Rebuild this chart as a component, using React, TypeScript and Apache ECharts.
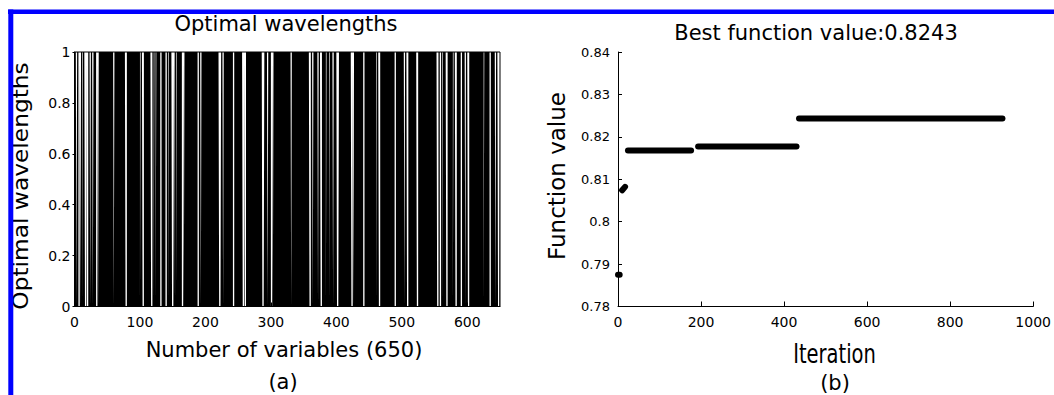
import React, { useEffect, useRef } from "react";
import * as echarts from "echarts";

// ---- Panel (a): selected wavelengths (1 = selected, 0 = not) ----
const N_VARIABLES = 650;
const unselected = [
  3, 6, 7, 9, 12, 16, 17, 19, 20, 24, 28, 33, 34, 36, 60, 78, 79, 100, 104, 105,
  117, 118, 121, 124, 131, 132, 139, 140, 143, 149, 150, 152, 155, 164, 165, 167,
  188, 189, 193, 221, 222, 223, 227, 242, 243, 257, 258, 260, 261, 287, 288, 289,
  295, 300, 301, 303, 331, 359, 360, 364, 372, 376, 377, 384, 389, 395, 401, 402,
  403, 423, 424, 426, 441, 442, 461, 465, 466, 489, 490, 504, 508, 509, 523, 524,
  554, 555, 558, 559, 562, 568, 569, 578, 582, 583, 590, 591, 597, 601, 602, 625,
  634, 635, 643, 647, 648,
];
const yTicksA = [0, 0.2, 0.4, 0.6, 0.8, 1];

// ---- Panel (b): best function value per iteration (runs of equal value) ----
const runStart = [0, 10, 24, 193, 436];
const runEnd = [4, 17, 176, 430, 926];
const runStartValue = [0.7875, 0.8074, 0.8168, 0.8177, 0.8243];
const runEndValue = [0.7875, 0.8082, 0.8168, 0.8177, 0.8243];
const bestValue = 0.8243;

const FONT = "DejaVu Sans";

export default function App() {
  const ref = useRef<HTMLDivElement>(null);

  useEffect(() => {
    if (!ref.current) return;
    const chart = echarts.init(ref.current, undefined, { renderer: "svg" });

    const unsel = new Set(unselected);
    const flags: number[] = [];
    for (let i = 0; i < N_VARIABLES; i++) flags.push(unsel.has(i) ? 0 : 1);
    const stepData: number[][] = flags.map((v, i) => [i, v]);
    stepData.push([N_VARIABLES, flags[N_VARIABLES - 1]]);

    const runSeries = runStart.map((s, k) => ({
      type: "line",
      xAxisIndex: 1,
      yAxisIndex: 1,
      data: [
        [s, runStartValue[k]],
        [runEnd[k], runEndValue[k]],
      ],
      symbol: "none",
      lineStyle: { color: "#000", width: 6, cap: "round" },
      silent: true,
    }));

    const txt = (
      text: string,
      x: number,
      y: number,
      size: number,
      extra: any = {}
    ) => ({
      type: "text",
      x,
      y,
      ...extra,
      style: {
        text,
        x: 0,
        y: 0,
        fill: "#000",
        font: `${size}px "${FONT}"`,
        align: "center",
        verticalAlign: "middle",
      },
      z: 10,
    });

    const axisLabel = (size: number, margin: number) => ({
      color: "#000",
      fontFamily: FONT,
      fontSize: size,
      margin,
      formatter: (v: number) => String(v),
    });

    chart.setOption({
      animation: false,
      backgroundColor: "#fff",
      grid: [
        {
          left: 74.5,
          top: 52,
          width: 425.5,
          height: 254.5,
          show: true,
          borderColor: "#000",
          borderWidth: 1,
          backgroundColor: "transparent",
        },
        { left: 618, top: 52, width: 420, height: 254.5 },
      ],
      xAxis: [
        {
          gridIndex: 0,
          type: "value",
          min: 0,
          max: N_VARIABLES,
          interval: 100,
          axisLine: { lineStyle: { color: "#000", width: 1 } },
          axisTick: { inside: true, length: 4, lineStyle: { color: "#000" } },
          axisLabel: { ...axisLabel(14, 8), showMaxLabel: false },
          splitLine: { show: false },
        },
        {
          gridIndex: 1,
          type: "value",
          min: 0,
          max: 1000,
          interval: 200,
          axisLine: { lineStyle: { color: "#000", width: 1 } },
          axisTick: { inside: true, length: 5, lineStyle: { color: "#000" } },
          axisLabel: axisLabel(14, 8),
          splitLine: { show: false },
        },
      ],
      yAxis: [
        {
          gridIndex: 0,
          type: "value",
          min: yTicksA[0],
          max: yTicksA[yTicksA.length - 1],
          interval: 0.2,
          axisLine: { show: true, lineStyle: { color: "#000", width: 1 } },
          axisTick: { show: true, inside: false, length: 2, lineStyle: { color: "#000" } },
          axisLabel: axisLabel(14, 4),
          splitLine: { show: false },
        },
        {
          gridIndex: 1,
          type: "value",
          min: 0.78,
          max: 0.84,
          interval: 0.01,
          axisLine: { show: true, lineStyle: { color: "#000", width: 1 } },
          axisTick: { show: true, inside: true, length: 4, lineStyle: { color: "#000" } },
          axisLabel: axisLabel(13, 8),
          splitLine: { show: false },
        },
      ],
      series: [
        {
          type: "line",
          xAxisIndex: 0,
          yAxisIndex: 0,
          data: stepData,
          step: "end",
          symbol: "none",
          lineStyle: { width: 0, opacity: 0 },
          areaStyle: { color: "#000", opacity: 1 },
          silent: true,
        },
        ...runSeries,
      ],
      graphic: [
        {
          type: "rect",
          shape: { x: 8, y: 9.5, width: 1046, height: 4.5 },
          style: { fill: "#0000ff" },
          z: 20,
        },
        {
          type: "rect",
          shape: { x: 8.3, y: 9.5, width: 5, height: 386 },
          style: { fill: "#0000ff" },
          z: 20,
        },
        txt("Optimal wavelengths", 286, 23.5, 21),
        txt(`Best function value:${bestValue}`, 816, 32.5, 21),
        txt("Number of variables (650)", 284, 349.5, 21),
        txt("Iteration", 834.5, 354, 26, { scaleX: 0.75 }),
        txt("(a)", 283, 382, 21),
        txt("(b)", 835, 383, 21),
        txt("Optimal wavelengths", 20.5, 186, 21, {
          rotation: Math.PI / 2,
          scaleX: 1.11,
        }),
        txt("Function value", 556.5, 176, 23, { rotation: Math.PI / 2 }),
      ],
    });

    return () => chart.dispose();
  }, []);

  return (
    <div
      ref={ref}
      style={{ position: "absolute", left: 0, top: 0, width: 1054, height: 395 }}
    />
  );
}
